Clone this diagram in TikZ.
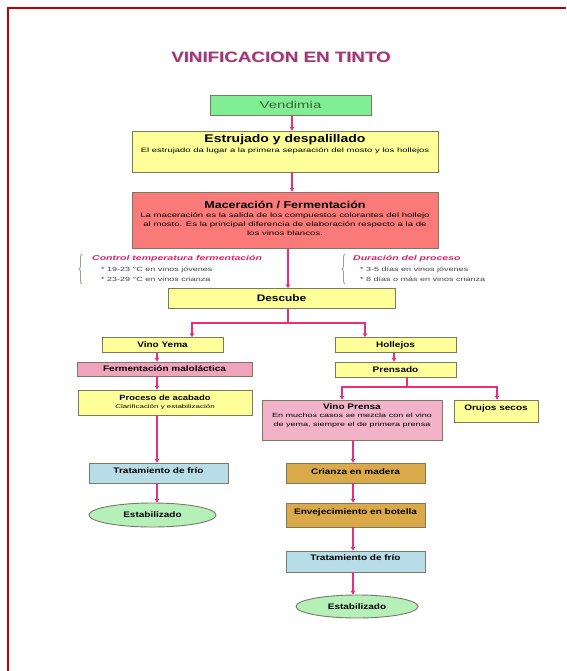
\documentclass[tikz,border=0pt]{standalone}
\usepackage{fontspec}
\setmainfont[FakeStretch=1.25]{Liberation Sans}
\newfontfamily\widef[FakeStretch=1.5]{Liberation Sans}
\usetikzlibrary{arrows.meta,decorations.pathreplacing,shapes.geometric,calc}
\definecolor{frame}{HTML}{C00000}
\definecolor{vgreen}{HTML}{80EE92}
\definecolor{yel}{HTML}{FFFF99}
\definecolor{macred}{HTML}{FA7A7A}
\definecolor{pinkA}{HTML}{EFA3BD}
\definecolor{pinkB}{HTML}{F2B2C8}
\definecolor{lblue}{HTML}{B7DDE8}
\definecolor{gold}{HTML}{D9A94A}
\definecolor{egreen}{HTML}{B4F0B8}
\definecolor{conc}{HTML}{E8307A}
\definecolor{titlec}{HTML}{9A3A78}
\definecolor{annc}{HTML}{E0206A}
\definecolor{boxline}{HTML}{7A7A62}
\definecolor{bracec}{HTML}{90A890}
\definecolor{vtext}{HTML}{3C643C}
\newcommand{\subt}{\widef\fontsize{6.3}{7.3}\selectfont\mdseries}
\newcommand{\itm}{\widef\fontsize{6}{7}\selectfont\color{darkgray}}
\tikzset{
  box/.style={draw=boxline, line width=0.9pt, inner sep=1pt, align=center,
    font=\fontsize{8}{9}\selectfont\bfseries},
  ybox/.style={box, fill=yel},
  con/.style={draw=conc, line width=2.2pt, -{Stealth[length=4pt,width=5pt]}},
  conl/.style={draw=conc, line width=2.2pt},
  ell/.style={ellipse, draw=boxline, line width=0.9pt, fill=egreen, inner sep=0pt,
    font=\fontsize{8}{9}\selectfont\bfseries},
  ann/.style={anchor=north west, align=left, inner sep=0pt},
  brc/.style={draw=bracec, line width=0.9pt, decorate, decoration={brace, amplitude=3pt}}
}
\begin{document}
\begin{tikzpicture}[x=1pt, y=-1pt]
\useasboundingbox (0,0) rectangle (566,671);
\fill[white] (0,0) rectangle (566,671);
% frame
\draw[frame, line width=2pt] (8,671) -- (8,8) -- (566,8);
% title
\node[text=pinkB, font=\fontsize{15}{16}\selectfont\bfseries] (titlesh) at (281.8,57.8) {VINIFICACION EN TINTO};
\node[text=titlec, font=\fontsize{15}{16}\selectfont\bfseries] (title) at (281,57) {VINIFICACION EN TINTO};
% main spine
\node[box, fill=vgreen, minimum width=161, minimum height=20,
  font=\widef\fontsize{10}{11}\selectfont, text=vtext] (vend) at (290.5,105) {Vendimia};
\node[ybox, minimum width=306, minimum height=41, text depth=16pt] (estr) at (285,151.5)
  {{\fontsize{11.2}{12}\selectfont\bfseries Estrujado y despalillado}\\[1pt]
   {\subt El estrujado da lugar a la primera separación del mosto y los hollejos}};
\node[box, fill=macred, minimum width=306, minimum height=56, text depth=4pt] (mac) at (285,220)
  {{\fontsize{10}{11}\selectfont\bfseries Maceración / Fermentación}\\[0pt]
   {\subt\fontsize{6.4}{7.5}\selectfont La maceración es la salida de los compuestos colorantes del hollejo}\\
   {\subt\fontsize{6.4}{7.5}\selectfont al mosto. Es la principal diferencia de elaboración respecto a la de}\\
   {\subt\fontsize{6.4}{7.5}\selectfont los vinos blancos.}};
% annotations
\draw[brc] (82,284) -- (82,254);
\node[ann] (annl) at (92,255)
  {{\widef\fontsize{7}{8}\selectfont\bfseries\itshape\color{annc}Control temperatura fermentación}\\[-1pt]
   {\itm\hspace*{9pt}* 19-23 °C en vinos jóvenes}\\[-2pt]
   {\itm\hspace*{9pt}* 23-29 °C en vinos crianza}};
\draw[brc] (345,284) -- (345,254);
\node[ann] (annr) at (353,255)
  {{\widef\fontsize{7}{8}\selectfont\bfseries\itshape\color{annc}Duración del proceso}\\[-1pt]
   {\itm\hspace*{7pt}* 3-5 días en vinos jóvenes}\\[-2pt]
   {\itm\hspace*{7pt}* 8 días o más en vinos crianza}};
\node[ybox, minimum width=227, minimum height=20, font=\fontsize{9.5}{10}\selectfont\bfseries] (desc) at (281.5,298.5) {Descube};
% left branch
\node[ybox, minimum width=121, minimum height=15] (yema) at (162.5,345) {Vino Yema};
\node[box, fill=pinkA, minimum width=175, minimum height=14] (ferm) at (164.5,369) {Fermentación maloláctica};
\node[ybox, minimum width=174, minimum height=25] (acab) at (165,402.5)
  {{\fontsize{7.5}{8}\selectfont\bfseries Proceso de acabado}\\[-1pt]{\widef\fontsize{5.3}{6}\selectfont\mdseries Clarificación y estabilización}};
\node[box, fill=lblue, minimum width=139, minimum height=20, text depth=4pt] (tfrio1) at (158.5,473) {Tratamiento de frío};
\node[ell, minimum width=127, minimum height=24] (estab1) at (152.5,515) {Estabilizado};
% right branch
\node[ybox, minimum width=121, minimum height=15] (holl) at (395.5,345) {Hollejos};
\node[ybox, minimum width=121, minimum height=15] (prens) at (395.5,369.5) {Prensado};
\node[box, fill=pinkB, minimum width=180, minimum height=40, text depth=9pt] (vprensa) at (352,420)
  {Vino Prensa\\[-1pt]{\subt\fontsize{6}{7}\selectfont En muchos casos se mezcla con el vino}\\{\subt\fontsize{6}{7}\selectfont de yema, siempre el de primera prensa}};
\node[ybox, minimum width=84, minimum height=22, text depth=7.5pt] (orujos) at (496,411) {Orujos secos};
\node[box, fill=gold, minimum width=139, minimum height=20, text depth=3pt] (crianza) at (355.5,473) {Crianza en madera};
\node[box, fill=gold, minimum width=139, minimum height=24, text depth=7.5pt] (envej) at (355.5,515) {Envejecimiento en botella};
\node[box, fill=lblue, minimum width=139, minimum height=21, text depth=8pt] (tfrio2) at (355.5,561.5) {Tratamiento de frío};
\node[ell, minimum width=122, minimum height=23] (estab2) at (357,606.5) {Estabilizado};
% connectors
\coordinate (sp) at (292,0);
\draw[con] (vend.south -| sp) -- (estr.north -| sp);
\draw[con] (estr.south -| sp) -- (mac.north -| sp);
\coordinate (mc) at (288,0);
\draw[con] (mac.south -| mc) -- (desc.north -| mc);
\coordinate (s1) at (288,323);
\coordinate (ya) at (192,323);
\coordinate (ha) at (365,323);
\draw[conl] (desc.south -| s1) -- (s1);
\draw[con] (s1) -- (ya) -- (ya |- yema.north);
\draw[con] (s1) -- (ha) -- (ha |- holl.north);
\coordinate (lc) at (157,0);
\draw[con] (yema.south -| lc) -- (ferm.north -| lc);
\draw[con] (ferm.south -| lc) -- (acab.north -| lc);
\draw[con] (acab.south -| lc) -- (tfrio1.north -| lc);
\draw[con] (tfrio1.south -| lc) -- (estab1.north -| lc);
\coordinate (hc) at (394,0);
\draw[con] (holl.south -| hc) -- (prens.north -| hc);
\coordinate (s2) at (407,387);
\coordinate (pa) at (342,387);
\coordinate (oa) at (497,387);
\draw[conl] (prens.south -| s2) -- (s2);
\draw[con] (s2) -- (pa) -- (pa |- vprensa.north);
\draw[con] (s2) -- (oa) -- (oa |- orujos.north);
\coordinate (rc) at (353,0);
\draw[con] (vprensa.south -| rc) -- (crianza.north -| rc);
\draw[con] (crianza.south -| rc) -- (envej.north -| rc);
\draw[con] (envej.south -| rc) -- (tfrio2.north -| rc);
\draw[con] (tfrio2.south -| rc) -- (estab2.north -| rc);
\end{tikzpicture}
\end{document}
